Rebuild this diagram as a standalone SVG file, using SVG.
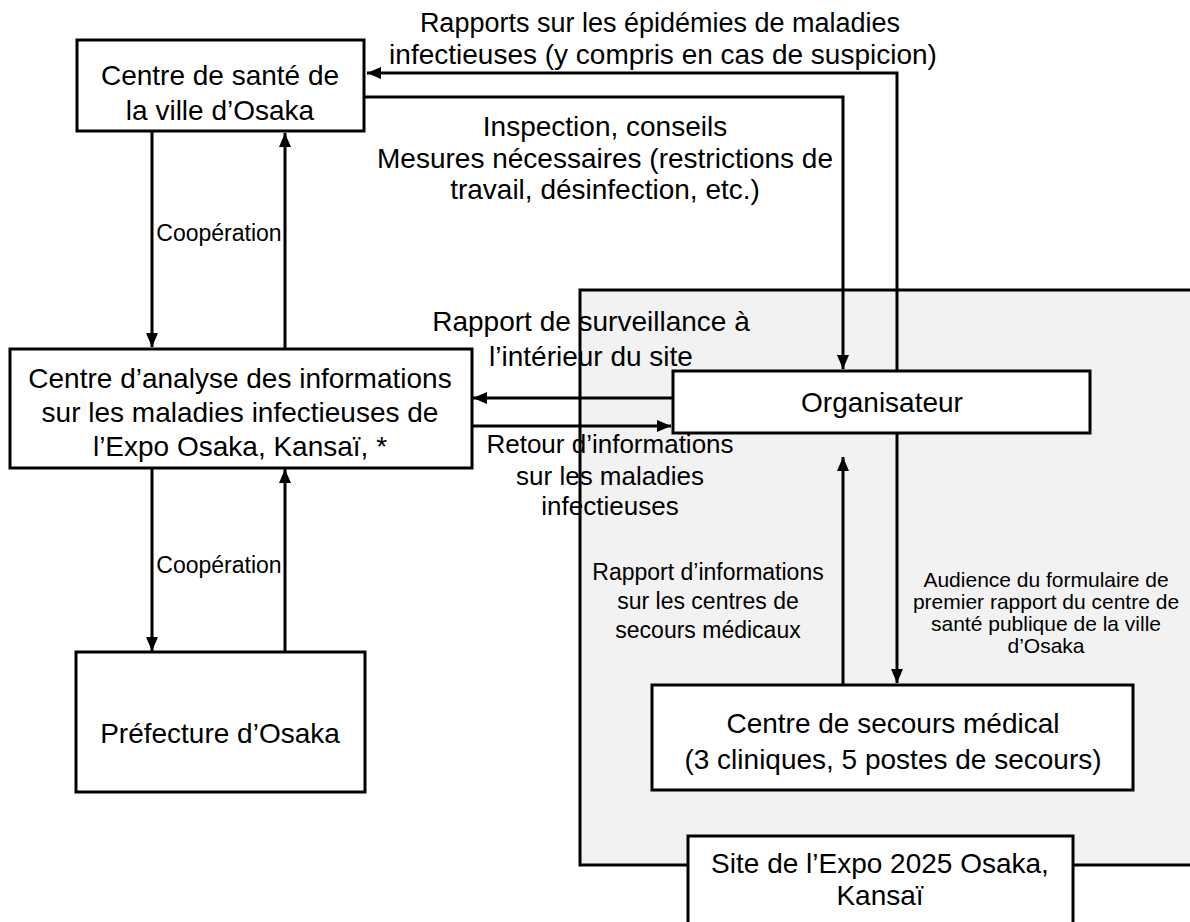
<svg xmlns="http://www.w3.org/2000/svg" width="1190" height="922" viewBox="0 0 1190 922">
<style>
.box{fill:#fff;stroke:#000;stroke-width:3}
.t{font-family:"Liberation Sans",Arial,sans-serif;fill:#000;text-anchor:middle}
.t28{font-size:28px}
.t27{font-size:27px}
.t26{font-size:26px}
.t23{font-size:23px}
.t21{font-size:21px}
.c{fill:none;stroke:#000;stroke-width:3}
</style>
<defs>
<marker id="ah" viewBox="0 0 14 14" refX="14" refY="7" markerWidth="14" markerHeight="14" markerUnits="userSpaceOnUse" orient="auto">
<path d="M0,1 L14,7 L0,13 z" fill="#000"/>
</marker>
</defs>
<rect width="1190" height="922" fill="#fff"/>
<g id="site-area">
<rect x="580" y="290" width="620" height="575" fill="#f2f2f2" stroke="#000" stroke-width="3"/>
</g>
<g id="labels">
<text class="t t27" x="660" y="32">Rapports sur les épidémies de maladies</text>
<text class="t t28" x="663" y="64">infectieuses (y compris en cas de suspicion)</text>
<text class="t t28" x="605" y="136">Inspection, conseils</text>
<text class="t t28" x="605" y="168">Mesures nécessaires (restrictions de</text>
<text class="t t28" x="605" y="199">travail, désinfection, etc.)</text>
<text class="t t23" x="219" y="241">Coopération</text>
<text class="t t23" x="219" y="573">Coopération</text>
<text class="t t28" x="591" y="331">Rapport de surveillance à</text>
<text class="t t28" x="591" y="366">l’intérieur du site</text>
<text class="t t26" x="610" y="453">Retour d’informations</text>
<text class="t t26" x="610" y="485">sur les maladies</text>
<text class="t t26" x="610" y="515">infectieuses</text>
<text class="t t23" x="708" y="580">Rapport d’informations</text>
<text class="t t23" x="708" y="609">sur les centres de</text>
<text class="t t23" x="708" y="638">secours médicaux</text>
<text class="t t21" x="1046" y="587">Audience du formulaire de</text>
<text class="t t21" x="1046" y="609">premier rapport du centre de</text>
<text class="t t21" x="1046" y="631">santé publique de la ville</text>
<text class="t t21" x="1046" y="653">d’Osaka</text>
</g>
<g id="connectors">
<polyline class="c" points="897,371 897,73 367,73" marker-end="url(#ah)"/>
<polyline class="c" points="365,97 843,97 843,369" marker-end="url(#ah)"/>
<line class="c" x1="152" y1="132" x2="152" y2="347" marker-end="url(#ah)"/>
<line class="c" x1="285" y1="349" x2="285" y2="133" marker-end="url(#ah)"/>
<line class="c" x1="152" y1="468" x2="152" y2="651" marker-end="url(#ah)"/>
<line class="c" x1="285" y1="652" x2="285" y2="469" marker-end="url(#ah)"/>
<line class="c" x1="673" y1="398" x2="473" y2="398" marker-end="url(#ah)"/>
<line class="c" x1="472" y1="426" x2="671" y2="426" marker-end="url(#ah)"/>
<line class="c" x1="843" y1="685" x2="843" y2="457" marker-end="url(#ah)"/>
<line class="c" x1="897" y1="434" x2="897" y2="683" marker-end="url(#ah)"/>
</g>
<g id="node-sante">
<rect class="box" x="77" y="40" width="287" height="91"/>
<text class="t t28" x="220" y="85">Centre de santé de</text>
<text class="t t28" x="220" y="120">la ville d’Osaka</text>
</g>
<g id="node-analyse">
<rect class="box" x="10" y="349" width="462" height="119"/>
<text class="t t28" x="240" y="388">Centre d’analyse des informations</text>
<text class="t t28" x="240" y="422">sur les maladies infectieuses de</text>
<text class="t t28" x="240" y="456">l’Expo Osaka, Kansaï, *</text>
</g>
<g id="node-prefecture">
<rect class="box" x="76" y="652" width="289" height="140"/>
<text class="t t28" x="220" y="743">Préfecture d’Osaka</text>
</g>
<g id="node-organisateur">
<rect class="box" x="673" y="371" width="417" height="62"/>
<text class="t t28" x="882" y="412">Organisateur</text>
</g>
<g id="node-secours">
<rect class="box" x="652" y="685" width="481" height="105"/>
<text class="t t28" x="893" y="733">Centre de secours médical</text>
<text class="t t28" x="893" y="769">(3 cliniques, 5 postes de secours)</text>
</g>
<g id="node-site">
<rect class="box" x="688" y="836" width="385" height="100"/>
<text class="t t28" x="880" y="873">Site de l’Expo 2025 Osaka,</text>
<text class="t t28" x="880" y="905">Kansaï</text>
</g>
</svg>
